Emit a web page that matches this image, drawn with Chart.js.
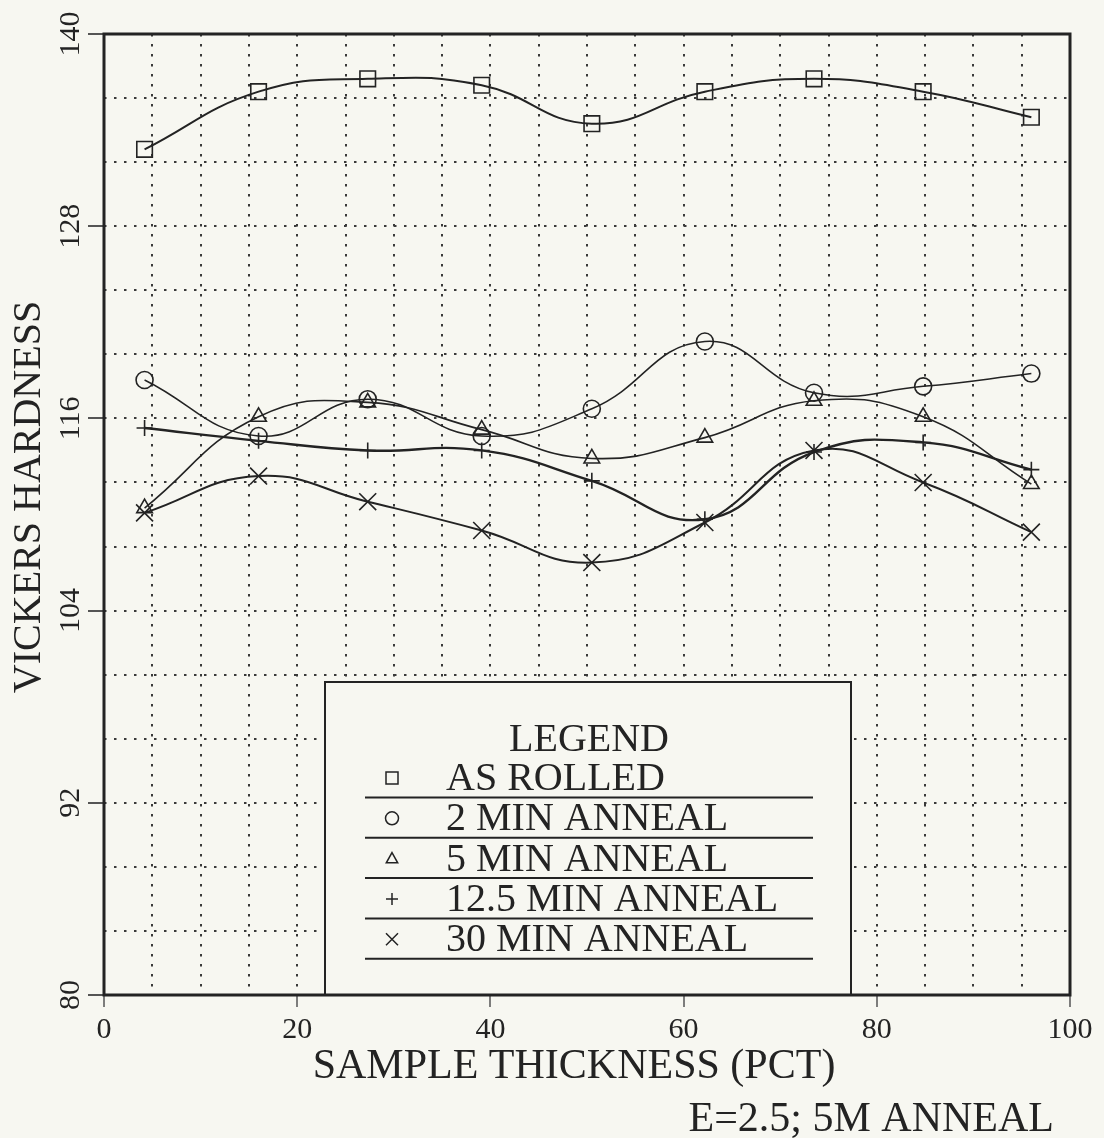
<!DOCTYPE html>
<html>
<head>
<meta charset="utf-8">
<script src="https://cdn.jsdelivr.net/npm/chart.js@4.4.1/dist/chart.umd.min.js"></script>
<style>
  html, body { margin: 0; padding: 0; background: #f7f7f1; }
</style>
</head>
<body>
<canvas id="hardnessChart" width="1104" height="1138"></canvas>
<script>
// Data
const thickness = [4.2, 16, 27.3, 39.1, 50.5, 62.2, 73.5, 84.8, 96];
const asRolled = [132.8, 136.4, 137.2, 136.8, 134.4, 136.4, 137.2, 136.4, 134.8];
const anneal2 = [118.4, 114.9, 117.2, 114.9, 116.6, 120.8, 117.6, 118.0, 118.8];
const anneal5 = [110.4, 116.1, 117.0, 115.3, 113.5, 114.8, 117.1, 116.1, 111.9];
const anneal12 = [115.4, 114.6, 114.0, 114.0, 112.1, 109.7, 113.9, 114.5, 112.8];
const anneal30 = [110.1, 112.4, 110.8, 109.0, 107.0, 109.5, 114.0, 112.0, 108.9];

const seriesLabels = ['AS ROLLED', '2 MIN ANNEAL', '5 MIN ANNEAL', '12.5 MIN ANNEAL', '30 MIN ANNEAL'];
const seriesStyles = ['rect', 'circle', 'triangle', 'cross', 'crossRot'];
const yTickLabels = [80, 92, 104, 116, 128, 140];
const xTickLabels = [0, 20, 40, 60, 80, 100];

const SERIF = '"Liberation Serif", "DejaVu Serif", serif';
const INK = '#232323';
const PAPER = '#f7f7f1';

function makeSeries(i, values, radius, width) {
    return {
        label: seriesLabels[i],
        data: thickness.map((x, k) => ({ x: x, y: values[k] })),
        borderColor: INK,
        borderWidth: width,
        pointStyle: seriesStyles[i],
        pointRadius: radius,
        pointBorderColor: INK,
        pointBackgroundColor: 'rgba(0,0,0,0)',
        pointBorderWidth: 1.6,
        tension: 0.45,
        fill: false
    };
}

// markers for the hand drawn legend box
function drawMarker(ctx, style, x, y, r) {
    ctx.beginPath();
    if (style === 'rect') {
        ctx.rect(x - r, y - r, 2 * r, 2 * r);
    } else if (style === 'circle') {
        ctx.arc(x, y, r, 0, Math.PI * 2);
    } else if (style === 'triangle') {
        ctx.moveTo(x, y - r);
        ctx.lineTo(x + r * 0.95, y + r * 0.7);
        ctx.lineTo(x - r * 0.95, y + r * 0.7);
        ctx.closePath();
    } else if (style === 'cross') {
        ctx.moveTo(x - r, y); ctx.lineTo(x + r, y);
        ctx.moveTo(x, y - r); ctx.lineTo(x, y + r);
    } else if (style === 'crossRot') {
        ctx.moveTo(x - r, y - r); ctx.lineTo(x + r, y + r);
        ctx.moveTo(x + r, y - r); ctx.lineTo(x - r, y + r);
    }
    ctx.stroke();
}

const paperPlugin = {
    id: 'paper',
    beforeDraw(chart) {
        const ctx = chart.ctx;
        ctx.save();
        ctx.fillStyle = PAPER;
        ctx.fillRect(0, 0, chart.width, chart.height);
        ctx.restore();
    }
};

const framePlugin = {
    id: 'frame',
    afterDatasetsDraw(chart) {
        const ctx = chart.ctx;
        const area = chart.chartArea;

        // legend box
        const box = { left: 325, top: 682, right: 851 };
        ctx.save();
        ctx.fillStyle = PAPER;
        ctx.fillRect(box.left, box.top, box.right - box.left, area.bottom - box.top);
        ctx.strokeStyle = INK;
        ctx.lineWidth = 2;
        ctx.strokeRect(box.left, box.top, box.right - box.left, area.bottom - box.top);

        ctx.fillStyle = INK;
        ctx.font = '40px ' + SERIF;
        ctx.textAlign = 'center';
        ctx.textBaseline = 'alphabetic';
        ctx.fillText('LEGEND', 589, 751);

        ctx.textAlign = 'left';
        chart.data.datasets.forEach((ds, i) => {
            const base = 790 + i * 40.3;
            ctx.fillText(ds.label, 446, base);
            ctx.lineWidth = 1.5;
            drawMarker(ctx, ds.pointStyle, 392, base - 12, ds.pointStyle === 'circle' ? 6.5 : 6);
            ctx.lineWidth = 2;
            ctx.beginPath();
            ctx.moveTo(365, base + 7.5);
            ctx.lineTo(813, base + 7.5);
            ctx.stroke();
        });

        // plot frame
        ctx.lineWidth = 3;
        ctx.strokeRect(area.left, area.top, area.right - area.left, area.bottom - area.top);
        ctx.restore();
    },
    afterDraw(chart) {
        const ctx = chart.ctx;
        ctx.save();
        ctx.fillStyle = INK;
        ctx.textBaseline = 'alphabetic';

        ctx.font = '42px ' + SERIF;
        ctx.textAlign = 'center';
        ctx.fillText('SAMPLE THICKNESS (PCT)', 574, 1078);

        ctx.textAlign = 'right';
        ctx.fillText('E=2.5; 5M ANNEAL', 1054, 1131);

        ctx.translate(40, 497);
        ctx.rotate(-Math.PI / 2);
        ctx.font = '40px ' + SERIF;
        ctx.textAlign = 'center';
        ctx.fillText('VICKERS HARDNESS', 0, 0);
        ctx.restore();
    }
};

const labelledTick = ctx => (ctx.tick && ctx.tick.label !== '') ? '#555' : 'rgba(0,0,0,0)';

new Chart(document.getElementById('hardnessChart'), {
    type: 'line',
    data: {
        datasets: [
            makeSeries(0, asRolled, 11, 2),
            makeSeries(1, anneal2, 8.5, 1.5),
            makeSeries(2, anneal5, 9, 1.6),
            makeSeries(3, anneal12, 8, 2.4),
            makeSeries(4, anneal30, 12, 2)
        ]
    },
    options: {
        responsive: false,
        devicePixelRatio: 1,
        animation: false,
        layout: { padding: { left: 0, top: 34, right: 34, bottom: 0 } },
        plugins: {
            legend: { display: false },
            tooltip: { enabled: false }
        },
        scales: {
            x: {
                type: 'linear',
                min: 0,
                max: 100,
                afterFit: s => { s.height = 143; },
                ticks: {
                    stepSize: 5,
                    autoSkip: false,
                    maxRotation: 0,
                    padding: 5,
                    color: INK,
                    font: { family: SERIF, size: 30 },
                    callback: v => xTickLabels.includes(v) ? String(v) : ''
                },
                grid: {
                    color: '#3a3a3a',
                    lineWidth: 2,
                    tickLength: 12,
                    tickWidth: 1.5,
                    tickColor: labelledTick,
                    tickBorderDash: []
                },
                border: { display: false, dash: [2.5, 7.5] }
            },
            y: {
                min: 80,
                max: 140,
                afterFit: s => { s.width = 104; },
                ticks: {
                    stepSize: 4,
                    autoSkip: false,
                    minRotation: 90,
                    maxRotation: 90,
                    crossAlign: 'center',
                    padding: -6,
                    color: INK,
                    font: { family: SERIF, size: 30 },
                    callback: v => yTickLabels.includes(v) ? String(v) : ''
                },
                grid: {
                    color: '#3a3a3a',
                    lineWidth: 2,
                    tickLength: 16,
                    tickWidth: 2,
                    tickColor: labelledTick,
                    tickBorderDash: []
                },
                border: { display: false, dash: [2.5, 7.5] }
            }
        }
    },
    plugins: [paperPlugin, framePlugin]
});
</script>
</body>
</html>
